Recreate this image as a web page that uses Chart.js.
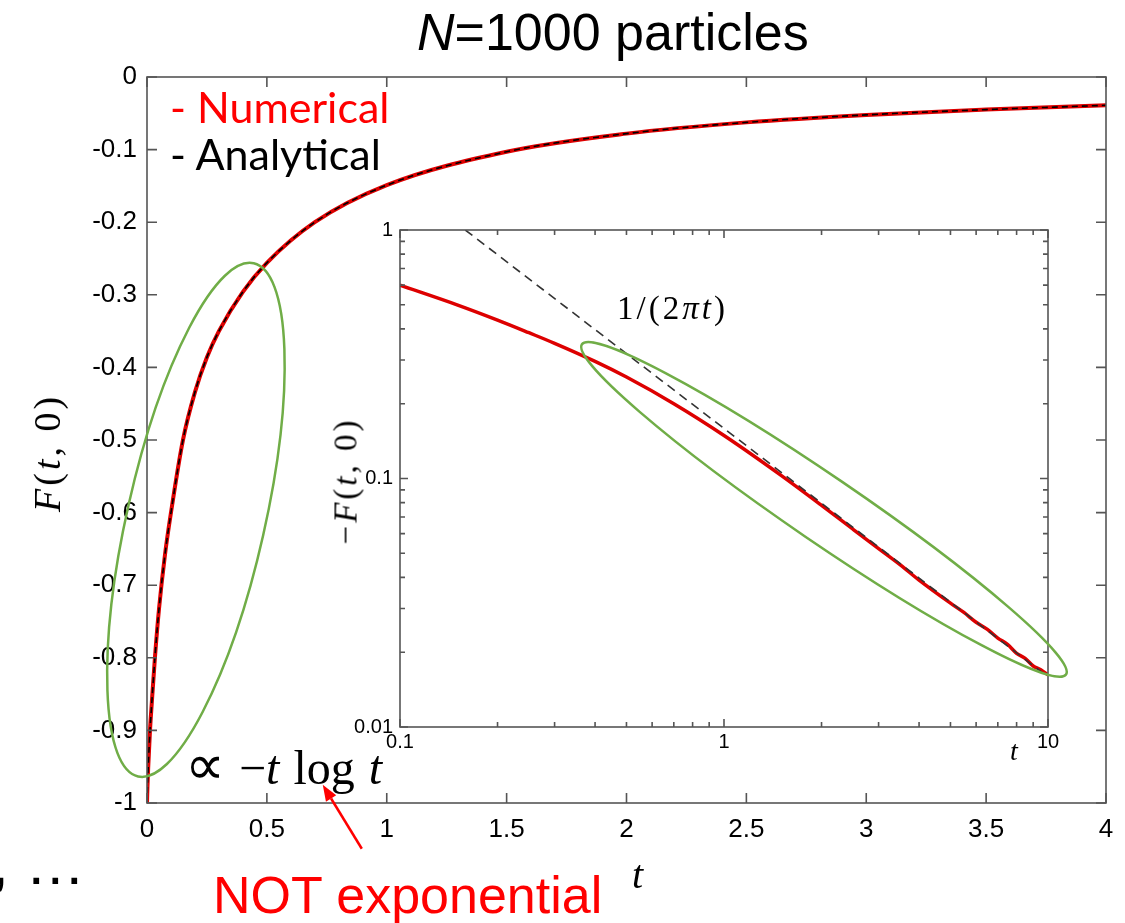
<!DOCTYPE html>
<html lang="en">
<head>
<meta charset="UTF-8">
<title>F(t,0), N=1000 particles</title>
<script src="https://cdn.jsdelivr.net/npm/chart.js"></script>
<style>
  body { margin: 0; background: #fff; }
  #wrap { position: relative; width: 1125px; height: 923px; overflow: hidden; background: #fff; }
  canvas { position: absolute; left: 0; top: 0; }
  .txt { position: absolute; white-space: nowrap; line-height: 1; }
  .sans { font-family: "Liberation Sans", Arial, sans-serif; }
  .serif { font-family: "Liberation Serif", "Times New Roman", serif; }
  .it { font-style: italic; }
  .rot { transform: translate(-50%, -50%) rotate(-90deg); }
</style>
</head>
<body>
<div id="wrap">
  <canvas id="main" width="1125" height="923"></canvas>
  <canvas id="inset" width="1125" height="923"></canvas>

  <div class="txt sans" style="left:417px;top:6px;font-size:52px;color:#000"><span class="it">N</span>=1000 particles</div>
  <div class="txt" style="left:170px;top:85px;font-size:43px;color:#ff0000;font-family:Lato,'Open Sans',sans-serif">- Numerical</div>
  <div class="txt" style="left:170px;top:132px;font-size:43px;color:#000;font-family:Lato,'Open Sans',sans-serif">- Analytical</div>

  <div class="txt serif rot" style="left:47px;top:453px;font-size:38px;letter-spacing:3px"><span class="it">F</span>(<span class="it">t</span>, 0)</div>
  <div class="txt serif it" style="left:632px;top:855px;font-size:40px">t</div>

  <div class="txt serif rot" style="left:346px;top:481px;font-size:33px;letter-spacing:3px">−<span class="it">F</span>(<span class="it">t</span>, 0)</div>
  <div class="txt serif it" style="left:1010px;top:737px;font-size:28px">t</div>
  <div class="txt serif" style="left:617px;top:292px;font-size:33px;letter-spacing:3px">1/(2<span class="it">πt</span>)</div>

  <div class="txt serif" style="left:185px;top:737px;font-size:48px;word-spacing:2px"><span style="font-size:56px">∝</span> −<span class="it">t</span> log <span class="it">t</span></div>
  <div class="txt sans" style="left:213px;top:869px;font-size:52px;color:#ff0000">NOT exponential</div>
  <div class="txt sans" style="left:-8px;top:834px;font-size:60px;color:#000">, …</div>
</div>

<script>
// time values of the sampled curve
const tValues = [0, 0.002, 0.005, 0.0125, 0.02, 0.033, 0.05, 0.075, 0.1, 0.15, 0.2, 0.25, 0.3, 0.4, 0.5, 0.7, 1.0,
                 1.5, 2.0, 2.5, 3.0, 3.5, 4.0, 5.0, 5.5, 6.0, 6.5, 7.0, 7.5, 8.0, 8.5, 9.0, 9.5, 10];
const fNumerical = [-1, -0.977, -0.951, -0.90, -0.862, -0.80, -0.733, -0.658, -0.60, -0.50, -0.434, -0.386, -0.350,
                    -0.296, -0.256, -0.200, -0.149, -0.103, -0.078, -0.0625, -0.0522, -0.0449, -0.039, -0.0315,
                    -0.0289, -0.0264, -0.0247, -0.0228, -0.0215, -0.0198, -0.0189, -0.0176, -0.0170, -0.0162];
// analytical F(t,0), lies on top of the numerical one (main panel only)
const tAnalytical = [0, 0.002, 0.005, 0.0125, 0.02, 0.033, 0.05, 0.075, 0.1, 0.15, 0.2, 0.25, 0.3, 0.4, 0.5, 0.7,
                     1.0, 1.5, 2.0, 2.5, 3.0, 3.5, 4.0];
const fAnalytical = [-1, -0.977, -0.951, -0.90, -0.862, -0.80, -0.733, -0.658, -0.60, -0.50, -0.434, -0.386, -0.350,
                     -0.296, -0.256, -0.200, -0.149, -0.103, -0.078, -0.0625, -0.0522, -0.0449, -0.039];
// 1/(2 pi t) guide in the inset, end points at the frame
const asymT = [0.159, 10];
const asymV = [1, 0.0159];

// tick labels
const mainXTicks = [0, 0.5, 1, 1.5, 2, 2.5, 3, 3.5, 4];
const mainXLabels = ['0', '0.5', '1', '1.5', '2', '2.5', '3', '3.5', '4'];
const mainYTicks = [-1, -0.9, -0.8, -0.7, -0.6, -0.5, -0.4, -0.3, -0.2, -0.1, 0];
const mainYLabels = ['-1', '-0.9', '-0.8', '-0.7', '-0.6', '-0.5', '-0.4', '-0.3', '-0.2', '-0.1', '0'];
const insetXDecades = [0.1, 1, 10];
const insetXLabels = ['0.1', '1', '10'];
const insetYDecades = [0.01, 0.1, 1];
const insetYLabels = ['0.01', '0.1', '1'];

// annotations (data units; radii in px)
const mainEllipse = { x: 0.204, y: -0.61, rx: 263, ry: 69, angle: -77.3 };
const insetEllipse = { x: 2.035, y: 0.0751, rx: 293, ry: 33, angle: 34.3 };
const arrow = { tipX: 0.733, tipY: -0.975, tailX: 0.896, tailY: -1.063 };

const GREEN = '#70ad47';
const RED = '#dd0000';
const AXIS = '#555';
const TICK_FAMILY = '"Liberation Sans Narrow", "Liberation Sans", Arial, sans-serif';

function isDecade(v) {
  const l = Math.log10(v);
  return Math.abs(l - Math.round(l)) < 1e-9;
}

function logTicks(decades) {
  const out = [];
  for (let i = 0; i < decades.length - 1; i++) {
    for (let k = 1; k <= 9; k++) out.push({ value: k * decades[i] });
  }
  out.push({ value: decades[decades.length - 1] });
  return out;
}

function drawFrame(chart, lenFn) {
  const { ctx, chartArea: a, scales: { x, y } } = chart;
  ctx.save();
  ctx.strokeStyle = AXIS;
  ctx.lineWidth = 1.6;
  ctx.strokeRect(a.left, a.top, a.right - a.left, a.bottom - a.top);
  ctx.beginPath();
  x.ticks.forEach(tk => {
    const px = x.getPixelForValue(tk.value);
    const len = lenFn(tk.value);
    ctx.moveTo(px, a.bottom); ctx.lineTo(px, a.bottom - len);
    ctx.moveTo(px, a.top); ctx.lineTo(px, a.top + len);
  });
  y.ticks.forEach(tk => {
    const py = y.getPixelForValue(tk.value);
    const len = lenFn(tk.value);
    ctx.moveTo(a.left, py); ctx.lineTo(a.left + len, py);
    ctx.moveTo(a.right, py); ctx.lineTo(a.right - len, py);
  });
  ctx.stroke();
  ctx.restore();
}

function drawEllipse(chart, e) {
  const { ctx, scales: { x, y } } = chart;
  ctx.save();
  ctx.strokeStyle = GREEN;
  ctx.lineWidth = 2.5;
  ctx.beginPath();
  ctx.ellipse(x.getPixelForValue(e.x), y.getPixelForValue(e.y), e.rx, e.ry, e.angle * Math.PI / 180, 0, 2 * Math.PI);
  ctx.stroke();
  ctx.restore();
}

const mainDecor = {
  id: 'mainDecor',
  afterDraw(chart) {
    drawFrame(chart, () => 10);
    drawEllipse(chart, mainEllipse);
    // red arrow pointing at the -t log t label
    const { ctx, scales: { x, y } } = chart;
    const x1 = x.getPixelForValue(arrow.tailX), y1 = y.getPixelForValue(arrow.tailY);
    const x2 = x.getPixelForValue(arrow.tipX), y2 = y.getPixelForValue(arrow.tipY);
    const ang = Math.atan2(y2 - y1, x2 - x1);
    const hl = 16, hw = 6;
    ctx.save();
    ctx.strokeStyle = '#ff0000';
    ctx.fillStyle = '#ff0000';
    ctx.lineWidth = 2.5;
    ctx.beginPath();
    ctx.moveTo(x1, y1);
    ctx.lineTo(x2 - hl * Math.cos(ang), y2 - hl * Math.sin(ang));
    ctx.stroke();
    ctx.beginPath();
    ctx.moveTo(x2, y2);
    ctx.lineTo(x2 - hl * Math.cos(ang) + hw * Math.sin(ang), y2 - hl * Math.sin(ang) - hw * Math.cos(ang));
    ctx.lineTo(x2 - hl * Math.cos(ang) - hw * Math.sin(ang), y2 - hl * Math.sin(ang) + hw * Math.cos(ang));
    ctx.closePath();
    ctx.fill();
    ctx.restore();
  }
};

const insetDecor = {
  id: 'insetDecor',
  beforeDraw(chart) {
    const { ctx, chartArea: a } = chart;
    ctx.save();
    ctx.fillStyle = '#fff';
    ctx.fillRect(a.left, a.top, a.right - a.left, a.bottom - a.top);
    ctx.restore();
  },
  afterDraw(chart) {
    drawFrame(chart, v => isDecade(v) ? 8 : 5);
    drawEllipse(chart, insetEllipse);
  }
};

const tickFont = (size) => ({ family: TICK_FAMILY, size: size });

new Chart(document.getElementById('main'), {
  type: 'line',
  data: {
    datasets: [
      {
        label: 'Analytical',
        data: tAnalytical.map((t, i) => ({ x: t, y: fAnalytical[i] })),
        borderColor: '#000',
        borderWidth: 1.6,
        borderDash: [6, 4],
        pointRadius: 0,
        cubicInterpolationMode: 'monotone',
        order: 0
      },
      {
        label: 'Numerical',
        data: tValues.map((t, i) => ({ x: t, y: fNumerical[i] })),
        borderColor: RED,
        borderWidth: 4,
        pointRadius: 0,
        cubicInterpolationMode: 'monotone',
        order: 1
      }
    ]
  },
  options: {
    responsive: false,
    animation: false,
    events: [],
    layout: { padding: { left: 0, top: 77, right: 19, bottom: 0 }, autoPadding: false },
    plugins: { legend: { display: false }, tooltip: { enabled: false } },
    scales: {
      x: {
        type: 'linear', min: 0, max: 4,
        grid: { display: false, drawTicks: false },
        border: { display: false },
        afterBuildTicks: s => { s.ticks = mainXTicks.map(v => ({ value: v })); },
        afterFit: s => { s.height = 120; },
        ticks: {
          padding: 11, color: '#000', font: tickFont(26), maxRotation: 0, autoSkip: false,
          callback: (v, i) => mainXLabels[i]
        }
      },
      y: {
        type: 'linear', min: -1, max: 0,
        grid: { display: false, drawTicks: false },
        border: { display: false },
        afterBuildTicks: s => { s.ticks = mainYTicks.map(v => ({ value: v })); },
        afterFit: s => { s.width = 147; },
        ticks: {
          padding: 10, color: '#000', font: tickFont(26), autoSkip: false,
          callback: (v, i) => mainYLabels[i]
        }
      }
    }
  },
  plugins: [mainDecor]
});

const insetIdx = tValues.map((t, i) => i).filter(i => tValues[i] >= 0.1);

new Chart(document.getElementById('inset'), {
  type: 'line',
  data: {
    datasets: [
      {
        label: '1/(2πt)',
        data: asymT.map((t, i) => ({ x: t, y: asymV[i] })),
        borderColor: '#333',
        borderWidth: 1.6,
        borderDash: [9, 6],
        pointRadius: 0,
        order: 0
      },
      {
        label: '-F(t,0)',
        data: insetIdx.map(i => ({ x: tValues[i], y: -fNumerical[i] })),
        borderColor: RED,
        borderWidth: 3.5,
        pointRadius: 0,
        cubicInterpolationMode: 'monotone',
        order: 1
      }
    ]
  },
  options: {
    responsive: false,
    animation: false,
    events: [],
    layout: { padding: { left: 0, top: 230, right: 77, bottom: 166 }, autoPadding: false },
    plugins: { legend: { display: false }, tooltip: { enabled: false } },
    scales: {
      x: {
        type: 'logarithmic', min: 0.1, max: 10,
        grid: { display: false, drawTicks: false },
        border: { display: false },
        afterBuildTicks: s => { s.ticks = logTicks(insetXDecades); },
        afterFit: s => { s.height = 30; },
        ticks: {
          padding: 3, color: '#000', font: tickFont(20), maxRotation: 0, autoSkip: false,
          callback: v => {
            const k = insetXDecades.findIndex(d => Math.abs(d - v) < 1e-9);
            return k >= 0 ? insetXLabels[k] : '';
          }
        }
      },
      y: {
        type: 'logarithmic', min: 0.01, max: 1,
        grid: { display: false, drawTicks: false },
        border: { display: false },
        afterBuildTicks: s => { s.ticks = logTicks(insetYDecades); },
        afterFit: s => { s.width = 400; },
        ticks: {
          padding: 7, color: '#000', font: tickFont(20), autoSkip: false,
          callback: v => {
            const k = insetYDecades.findIndex(d => Math.abs(d - v) < 1e-9);
            return k >= 0 ? insetYLabels[k] : '';
          }
        }
      }
    }
  },
  plugins: [insetDecor]
});
</script>
</body>
</html>
